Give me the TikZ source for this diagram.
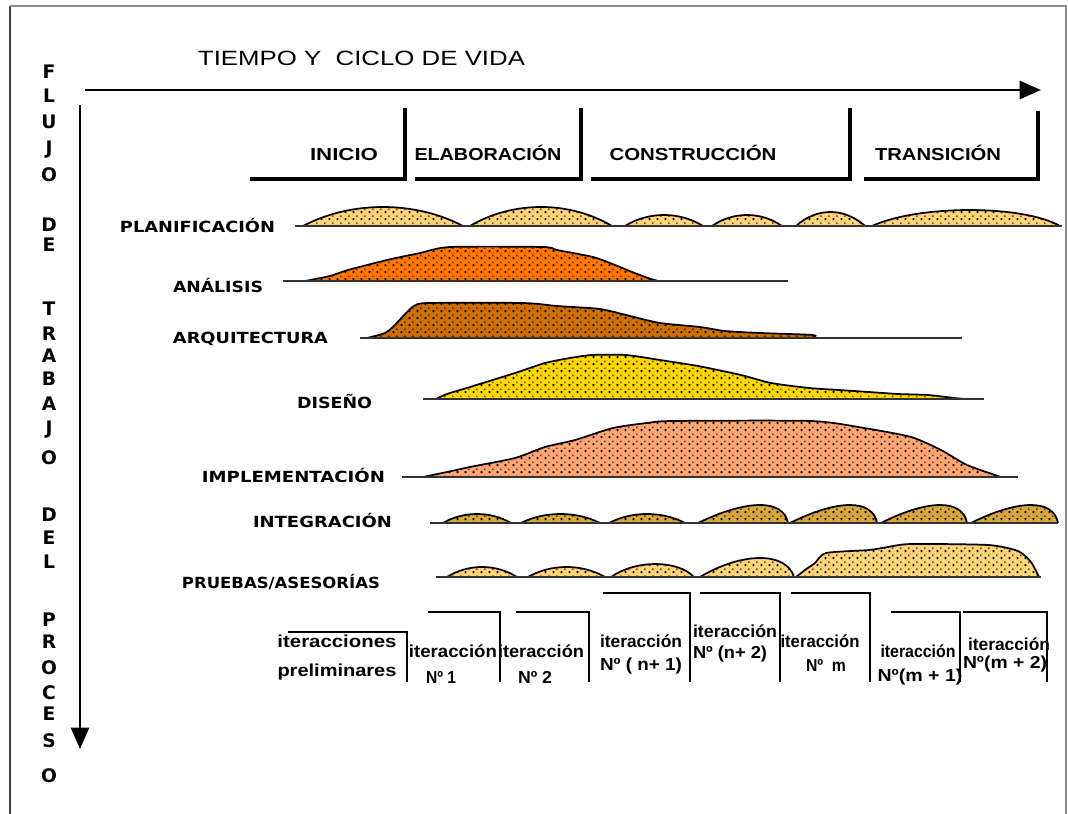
\documentclass[tikz,border=0pt]{standalone}
\usepackage{graphicx}
\usepackage{fontspec}
\setmainfont{Liberation Sans}
\newfontfamily\dvfont{DejaVu Sans}
\usetikzlibrary{arrows.meta,patterns.meta}
\newdimen\px \px=0.75pt
\newcommand\fitw[2]{\resizebox{#1\px}{\height}{#2}}
\definecolor{cplan}{RGB}{255,212,121}
\definecolor{canal}{RGB}{255,119,0}
\definecolor{carq}{RGB}{205,112,0}
\definecolor{cdis}{RGB}{255,215,0}
\definecolor{cimp}{RGB}{255,165,115}
\definecolor{cint}{RGB}{214,168,62}
\definecolor{cpru}{RGB}{255,212,121}
\tikzdeclarepattern{
  name=stipple,
  type=uncolored,
  bounding box={(0pt,0pt) and (6pt,5pt)},
  tile size={(6pt,5pt)},
  code={%
    \pgfpathrectangle{\pgfqpoint{0.6pt}{0.6pt}}{\pgfqpoint{1.3pt}{1.6pt}}%
    \pgfpathrectangle{\pgfqpoint{3.6pt}{3.0pt}}{\pgfqpoint{0.9pt}{1.3pt}}%
    \pgfusepath{fill}%
  }
}
\tikzset{
  lbl/.style={inner sep=0pt, anchor=base},
  vlet/.style={lbl, font=\fontsize{14}{14}\dvfont\bfseries},
  rowlbl/.style={lbl, font=\fontsize{11.5}{12}\dvfont\bfseries},
  phase/.style={lbl, font=\fontsize{13}{14}\selectfont\bfseries},
  iter/.style={lbl, font=\fontsize{13}{14}\selectfont\bfseries},
  ttl/.style={lbl, font=\fontsize{15.5}{16}\selectfont},
  axis/.style={line width=2.2pt, -{Triangle[length=16pt,width=13.5pt]}},
  phasebr/.style={line width=3pt, line join=miter},
  iterbr/.style={line width=1.2pt, line join=miter},
  baseln/.style={line width=1.2pt, black!80},
  humpline/.style={line width=1.3pt, black},
  frame/.style={line width=1.2pt},
}
\newcommand\bump[7]{% color, x1, x2, base, height, a, b
  \fill[#1, postaction={pattern=stipple, pattern color=black}] (#2,#4) .. controls ({#2+#6*(#3-#2)},{#4-1.333*#5}) and ({#3-#7*(#3-#2)},{#4-1.333*#5}) .. (#3,#4) -- cycle;
  \draw[humpline] (#2,#4) .. controls ({#2+#6*(#3-#2)},{#4-1.333*#5}) and ({#3-#7*(#3-#2)},{#4-1.333*#5}) .. (#3,#4);
}
\newcommand\mound[2]{%
  \fill[#1, postaction={pattern=stipple, pattern color=black}] plot[smooth, tension=0.4] coordinates {#2} -- cycle;
  \draw[humpline] plot[smooth, tension=0.4] coordinates {#2};
}
\begin{document}
\begin{tikzpicture}[x=0.75pt,y=-0.75pt]
\useasboundingbox (0,0) rectangle (1068,814);
\fill[white] (0,0) rectangle (1068,814);
% frame
\draw[frame, black!75] (10,814) -- (10,6);
\draw[frame, black!45] (10,6) -- (1066,6) -- (1066,814);

% title and axes
\node[ttl] (title) at (361.5,65) {\fitw{327}{TIEMPO Y\ \ CICLO DE VIDA}};
\coordinate (hs) at (85,90);
\coordinate (he) at (1041,90);
\draw[axis] (hs) -- (he);
\coordinate (vs) at (80,105);
\coordinate (ve) at (80,749);
\draw[axis, line width=1.8pt] (vs) -- (ve);

% vertical letters
\foreach \t/\yy [count=\i] in {F/78,L/102,U/128,J/154,O/181,D/231,E/251,T/315,R/340,A/362,B/385,A/410,J/434,O/464,D/521,E/544,L/568,P/626,R/648,O/674,C/699,E/720,S/747,O/782}
  \node[vlet, anchor=base] (v\i) at (49,\yy) {\t};

% phases
\draw[phasebr] (250,179) -- (405,179) -- (405,108);
\draw[phasebr] (415,179) -- (581,179) -- (581,108);
\draw[phasebr] (591,179) -- (850,179) -- (850,108);
\draw[phasebr] (864,179) -- (1038,179) -- (1038,111);
\node[phase] (pini) at (344,160) {\fitw{68}{INICIO}};
\node[phase] (pela) at (488,160) {\fitw{147}{ELABORACIÓN}};
\node[phase] (pcon) at (693,160) {\fitw{167}{CONSTRUCCIÓN}};
\node[phase] (ptra) at (938,160) {\fitw{126}{TRANSICIÓN}};

% row labels
\node[rowlbl] (lplan) at (197.5,232) {\fitw{155}{PLANIFICACIÓN}};
\node[rowlbl] (lanal) at (218,292) {\fitw{90}{ANÁLISIS}};
\node[rowlbl] (larq) at (250.5,343) {\fitw{155}{ARQUITECTURA}};
\node[rowlbl] (ldis) at (334.5,408) {\fitw{75}{DISEÑO}};
\node[rowlbl] (limp) at (293.5,482) {\fitw{183}{IMPLEMENTACIÓN}};
\node[rowlbl] (lint) at (322.5,527) {\fitw{139}{INTEGRACIÓN}};
\node[rowlbl] (lpru) at (281,588) {\fitw{198}{PRUEBAS/ASESORÍAS}};

% PLANIFICACION
\bump{cplan}{303}{463}{226}{19}{0.3}{0.3}
\bump{cplan}{470}{612}{226}{19}{0.3}{0.3}
\bump{cplan}{625}{703}{226}{11}{0.3}{0.3}
\bump{cplan}{712}{782}{226}{11}{0.3}{0.3}
\bump{cplan}{796}{865}{226}{14}{0.3}{0.3}
\bump{cplan}{872}{1060}{226}{16}{0.25}{0.2}
\draw[baseln] (295,226) -- (1062,226);

% ANALISIS
\mound{canal}{(305,281) (330,276) (348,270) (387,260) (420,253) (450,247) (543,247) (557,250) (593,257) (615,265) (632,272) (648,278) (658,281)}
\draw[baseln] (283,281) -- (788,281);

% ARQUITECTURA
\mound{carq}{(367,338) (385,333) (395,325) (405,314) (414,306) (428,303) (523,303) (557,306) (600,309) (630,316) (660,323) (700,327) (725,331) (760,333) (813,335) (813,338)}
\draw[baseln] (360,338) -- (962,338);

% DISENO
\mound{cdis}{(436,399) (447,394) (470,387) (515,373) (545,363) (570,358) (592,355) (626,355) (660,360) (698,366) (741,375) (771,383) (809,388) (839,390) (869,392) (898,394) (928,395) (954,398) (965,399)}
\draw[baseln] (423,399) -- (984,399);

% IMPLEMENTACION
\mound{cimp}{(423,477) (447,472) (470,467) (515,458) (545,447) (575,440) (613,428) (647,423) (673,421) (811,421) (864,428) (911,437) (941,450) (967,465) (1001,477)}
\draw[baseln] (402,477) -- (1018,477);

% INTEGRACION
\bump{cint}{443}{511}{523}{9}{0.3}{0.3}
\bump{cint}{521}{600}{523}{9}{0.3}{0.3}
\bump{cint}{609}{685}{523}{9}{0.3}{0.3}
\bump{cint}{698}{788}{523}{18}{0.55}{0.05}
\bump{cint}{790}{877}{523}{18}{0.55}{0.05}
\bump{cint}{881}{967}{523}{18}{0.55}{0.05}
\bump{cint}{971}{1058}{523}{18}{0.55}{0.05}
\draw[baseln] (430,523) -- (1058,523);

% PRUEBAS
\bump{cpru}{447}{517}{577}{10}{0.3}{0.3}
\bump{cpru}{528}{605}{577}{10}{0.3}{0.3}
\bump{cpru}{611}{694}{577}{13}{0.3}{0.2}
\bump{cpru}{700}{794}{577}{19}{0.45}{0.08}
\mound{cpru}{(796,577) (805,570) (815,563) (826,553) (869,550) (888,547) (911,544) (988,545) (1018,551) (1031,562) (1039,577)}
\draw[baseln] (436,577) -- (1041,577);

% iterations
\draw[iterbr] (288,632) -- (407,632) -- (407,682);
\draw[iterbr] (428,612) -- (500,612) -- (500,682);
\draw[iterbr] (516,612) -- (589,612) -- (589,682);
\draw[iterbr] (603,593) -- (690,593) -- (690,682);
\draw[iterbr] (700,593) -- (780,593) -- (780,682);
\draw[iterbr] (791,593) -- (870,593) -- (870,682);
\draw[iterbr] (891,612) -- (960,612) -- (960,682);
\draw[iterbr] (963,612) -- (1047,612) -- (1047,682);

\node[iter] (i1a) at (337,647) {\fitw{119}{iteracciones}};
\node[iter] (i1b) at (337,676) {\fitw{119}{preliminares}};
\node[iter] (i2a) at (453,657) {\fitw{88}{iteracción}};
\node[iter] (i2b) at (441,683) {\fitw{30}{Nº 1}};
\node[iter] (i3a) at (541,657) {\fitw{86}{iteracción}};
\node[iter] (i3b) at (535,683) {\fitw{34}{Nº 2}};
\node[iter] (i4a) at (641,647) {\fitw{82}{iteracción}};
\node[iter] (i4b) at (641,670) {\fitw{82}{Nº ( n+ 1)}};
\node[iter] (i5a) at (735,637) {\fitw{84}{iteracción}};
\node[iter] (i5b) at (730,658) {\fitw{74}{Nº (n+ 2)}};
\node[iter] (i6a) at (820,647) {\fitw{79}{iteracción}};
\node[iter] (i6b) at (826,671) {\fitw{40}{Nº\ \ m}};
\node[iter] (i7a) at (918,657) {\fitw{75}{iteracción}};
\node[iter] (i7b) at (920,681) {\fitw{85}{Nº(m + 1)}};
\node[iter] (i8a) at (1009,650) {\fitw{82}{iteracción}};
\node[iter] (i8b) at (1005,668) {\fitw{84}{Nº(m + 2)}};
\end{tikzpicture}
\end{document}
